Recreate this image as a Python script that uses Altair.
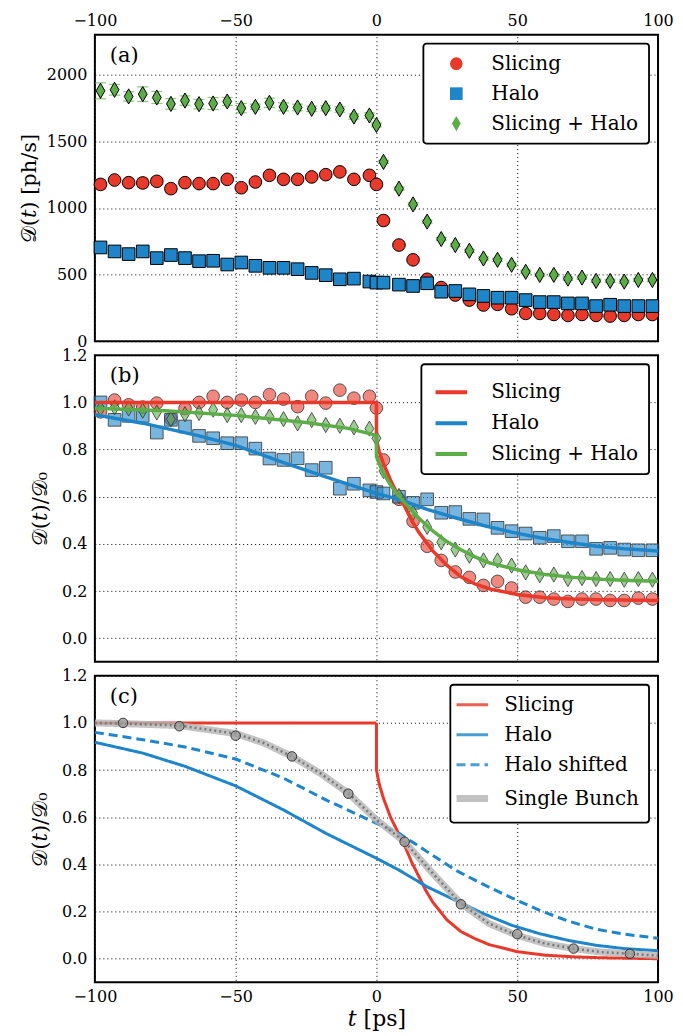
import altair as alt
import pandas as pd

# ---------------- data ----------------
T = [-98, -93, -88, -83, -78, -73, -68, -63, -58, -53, -48, -43, -38, -33, -28, -23, -18, -13, -8, -2.5, 0,
     2.5, 8, 13, 18, 23, 28, 33, 38, 43, 48, 53, 58, 63, 68, 73, 78, 83, 88, 93, 98]

# panel (a): count rate [ph/s]
A_SLICING = [1177, 1210, 1190, 1188, 1200, 1145, 1190, 1183, 1183, 1215, 1152, 1195, 1245, 1215, 1215, 1233, 1250, 1271, 1215, 1245, 1177,
             906, 722, 611, 465, 403, 347, 309, 272, 277, 244, 209, 209, 201, 194, 201, 194, 189, 194, 201, 201]
A_HALO = [704, 674, 654, 674, 624, 647, 624, 601, 604, 576, 591, 566, 551, 551, 541, 513, 496, 465, 470, 448, 440,
          440, 425, 415, 435, 372, 377, 352, 340, 327, 327, 309, 294, 294, 284, 284, 264, 274, 264, 264, 264]
A_SH = [1879, 1887, 1837, 1854, 1829, 1781, 1806, 1779, 1784, 1799, 1749, 1759, 1789, 1759, 1754, 1744, 1749, 1739, 1686, 1694, 1623,
        1346, 1145, 1027, 898, 767, 722, 679, 621, 611, 574, 521, 498, 498, 470, 478, 453, 453, 448, 460, 460]
ERR_SLICING = [35, 15, 15, 35, 30, 30, 15, 15, 25, 15, 15, 10, 15, 15, 15, 10, 10, 10, 10, 10, 10,
               8, 8, 8, 8, 8, 8, 8, 8, 8, 8, 8, 8, 8, 8, 8, 8, 8, 8, 8, 8]
ERR_HALO = [10, 10, 10, 10, 10, 10, 10, 10, 10, 10, 10, 10, 10, 10, 10, 10, 10, 10, 10, 10, 10,
            8, 8, 8, 8, 8, 8, 8, 8, 8, 8, 8, 8, 8, 8, 8, 8, 8, 8, 8, 8]
ERR_SH = [60, 40, 35, 55, 45, 40, 35, 35, 45, 30, 35, 20, 35, 30, 25, 20, 20, 20, 20, 20, 15,
          12, 12, 12, 12, 12, 12, 12, 12, 12, 12, 12, 12, 12, 12, 12, 12, 12, 12, 12, 12]

# panel (b): normalised data
B_SLICING = [0.96, 1.01, 0.99, 0.98, 0.997, 0.93, 0.974, 1.0, 1.026, 1.0, 1.01, 1.0, 1.033, 1.014, 0.982, 1.026, 0.997, 1.052, 1.018, 1.026, 0.976,
             0.756, 0.589, 0.496, 0.390, 0.330, 0.281, 0.258, 0.224, 0.241, 0.213, 0.174, 0.174, 0.166, 0.156, 0.166, 0.166, 0.160, 0.160, 0.170, 0.166]
B_HALO = [1.0, 0.926, 0.943, 0.943, 0.872, 0.926, 0.898, 0.858, 0.848, 0.827, 0.827, 0.804, 0.762, 0.756, 0.763, 0.713, 0.723, 0.634, 0.655, 0.627, 0.620,
          0.614, 0.600, 0.574, 0.589, 0.532, 0.535, 0.506, 0.504, 0.468, 0.454, 0.444, 0.426, 0.433, 0.411, 0.411, 0.379, 0.383, 0.376, 0.373, 0.373]
B_SH = [0.974, 0.979, 0.974, 0.965, 0.957, 0.929, 0.950, 0.955, 0.969, 0.946, 0.946, 0.939, 0.940, 0.929, 0.911, 0.925, 0.904, 0.901, 0.894, 0.889, 0.848,
        0.709, 0.603, 0.532, 0.472, 0.407, 0.376, 0.350, 0.330, 0.330, 0.308, 0.279, 0.267, 0.270, 0.251, 0.255, 0.251, 0.251, 0.248, 0.251, 0.248]

# panel (b): fitted curves
FIT_SLICING_T = [-100, 0, 0, 1, 2.5, 5, 7.5, 10, 12.5, 15, 17.5, 20, 25, 30, 35, 40, 50, 60, 70, 80, 100]
FIT_SLICING_V = [1.0, 1.0, 0.84, 0.79, 0.74, 0.67, 0.61, 0.56, 0.50, 0.45, 0.41, 0.37, 0.31, 0.26, 0.23, 0.21, 0.185, 0.172, 0.166, 0.163, 0.16]
FIT_HALO_T = [-100, -83, -63, -50, -33, -18, 0, 8, 18, 28, 38, 48, 58, 68, 78, 88, 100]
FIT_HALO_V = [0.948, 0.912, 0.858, 0.818, 0.745, 0.684, 0.614, 0.589, 0.546, 0.511, 0.478, 0.450, 0.426, 0.407, 0.390, 0.379, 0.370]
FIT_SH_T = [-100, -75, -50, -25, -10, 0, 0, 1, 2.5, 5, 7.5, 10, 15, 20, 25, 30, 35, 40, 50, 60, 70, 80, 90, 100]
FIT_SH_V = [0.975, 0.965, 0.945, 0.915, 0.89, 0.86, 0.77, 0.74, 0.70, 0.65, 0.61, 0.575, 0.51, 0.455, 0.41, 0.375, 0.345, 0.32, 0.29, 0.27, 0.258, 0.25, 0.245, 0.242]

# panel (c): model curves
C_SLICING_T = [-100, 0, 0, 1, 2.5, 5, 7.5, 10, 12.5, 15, 17.5, 20, 25, 30, 35, 40, 50, 60, 70, 80, 100]
C_SLICING_V = [1.0, 1.0, 0.80, 0.74, 0.68, 0.60, 0.54, 0.48, 0.41, 0.35, 0.29, 0.24, 0.165, 0.115, 0.085, 0.06, 0.03, 0.015, 0.008, 0.004, 0.0]
C_HALO_T = [-100, -83, -68, -50, -33, -18, 0, 8, 18, 28, 38, 48, 58, 68, 78, 88, 100]
C_HALO_V = [0.918, 0.872, 0.816, 0.733, 0.631, 0.532, 0.426, 0.376, 0.305, 0.248, 0.191, 0.142, 0.106, 0.078, 0.057, 0.043, 0.034]
C_SHIFT_T = [-100, -83, -68, -50, -33, -18, 0, 8, 18, 28, 38, 48, 58, 68, 78, 88, 100]
C_SHIFT_V = [0.960, 0.929, 0.898, 0.847, 0.766, 0.674, 0.574, 0.532, 0.454, 0.376, 0.315, 0.258, 0.205, 0.160, 0.125, 0.104, 0.087]
C_SINGLE_T = [-100, -90, -70, -50, -40, -30, -20, -10, 0, 10, 20, 30, 40, 50, 60, 70, 80, 90, 100]
C_SINGLE_V = [1.0, 0.997, 0.989, 0.955, 0.915, 0.858, 0.787, 0.702, 0.589, 0.496, 0.362, 0.234, 0.149, 0.099, 0.064, 0.043, 0.028, 0.021, 0.013]
C_PTS_T = [-90, -70, -50, -30, -10, 10, 30, 50, 70, 90]
C_PTS_V = [1.0, 0.986, 0.946, 0.858, 0.70, 0.496, 0.231, 0.104, 0.043, 0.021]

SERIES3 = ["Slicing", "Halo", "Slicing + Halo"]
SERIES4 = ["Slicing", "Halo", "Halo shifted", "Single Bunch"]
X_TICKS = [-100, -50, 0, 50, 100]
Y_TICKS_A = [0, 500, 1000, 1500, 2000]
Y_TICKS_N = [0.0, 0.2, 0.4, 0.6, 0.8, 1.0, 1.2]

# ---------------- styles ----------------
RED, BLUE, GREEN, GREY = "#e8392a", "#1f85c9", "#5cad48", "#b4b4b4"
DIAMOND = "M0,-1.2L0.7,0L0,1.2L-0.7,0Z"
SERIF = "DejaVu Serif"
W, H = 564, 307


def table(series, ts, vs, errs=None):
    rows = []
    for i, (t, v) in enumerate(zip(ts, vs)):
        r = {"series": series, "grp": series, "t": t, "v": v, "ord": i}
        if errs is not None:
            r["lo"] = v - errs[i]
            r["hi"] = v + errs[i]
        rows.append(r)
    return rows


df_a = pd.DataFrame(table("Slicing", T, A_SLICING, ERR_SLICING) + table("Halo", T, A_HALO, ERR_HALO)
                    + table("Slicing + Halo", T, A_SH, ERR_SH))
df_b = pd.DataFrame(table("Slicing", T, B_SLICING) + table("Halo", T, B_HALO) + table("Slicing + Halo", T, B_SH))
df_bf = pd.DataFrame(table("Slicing", FIT_SLICING_T, FIT_SLICING_V) + table("Halo", FIT_HALO_T, FIT_HALO_V)
                     + table("Slicing + Halo", FIT_SH_T, FIT_SH_V))
df_c = pd.DataFrame(table("Slicing", C_SLICING_T, C_SLICING_V) + table("Halo", C_HALO_T, C_HALO_V)
                    + table("Halo shifted", C_SHIFT_T, C_SHIFT_V))
df_cs = pd.DataFrame(table("Single Bunch", C_SINGLE_T, C_SINGLE_V))
df_cp = pd.DataFrame(table("Single Bunch", C_PTS_T, C_PTS_V))

xscale = alt.Scale(domain=[-100, 100], nice=False, zero=False, padding=0)
# scales that carry a legend
col3 = alt.Scale(domain=SERIES3, range=[RED, BLUE, GREEN])
shp3 = alt.Scale(domain=SERIES3, range=["circle", "square", DIAMOND])
# legend-less scales (domain in another order so that they are not merged with the legend ones)
SERIES3_R = SERIES3[::-1]
col3_r = alt.Scale(domain=SERIES3_R, range=[GREEN, BLUE, RED])
shp3_r = alt.Scale(domain=SERIES3_R, range=[DIAMOND, "square", "circle"])
col4 = alt.Scale(domain=SERIES4, range=[RED, BLUE, BLUE, GREY])
dash4 = alt.Scale(domain=SERIES4, range=[[1, 0], [1, 0], [9, 5], [1, 0]])


def leg(**kw):
    base = dict(title=None, orient="top-right", offset=9, padding=10, rowPadding=10,
                labelFont=SERIF, labelFontSize=20, labelColor="black", labelLimit=400,
                fillColor="white", strokeColor="black", cornerRadius=3)
    base.update(kw)
    return alt.Legend(**base)


leg_a = leg(symbolStrokeColor="black", symbolStrokeWidth=1, symbolSize=160,
            symbolOffset=13, labelOffset=25)
leg_b = leg(symbolType="stroke", symbolStrokeWidth=4, symbolSize=1000, symbolOffset=2, labelOffset=22,
            rowPadding=3)
leg_c = leg(symbolType="stroke", symbolStrokeWidth=alt.ExprRef(expr="datum.label == 'Single Bunch' ? 7 : 3"),
            symbolSize=1000, symbolOffset=2, labelOffset=22)


def xenc(kind):
    if kind == "top":
        ax = alt.Axis(orient="top", values=X_TICKS, title=None, labelPadding=6, grid=True)
    elif kind == "none":
        ax = alt.Axis(values=X_TICKS, title=None, labels=False, grid=True)
    else:
        ax = alt.Axis(orient="bottom", values=X_TICKS, title="𝑡 [ps]", labelPadding=6, grid=True,
                      titleFontSize=22, titlePadding=4)
    return alt.X("t:Q", scale=xscale, axis=ax)


def yenc(field, norm):
    if norm:
        return alt.Y(field, scale=alt.Scale(domain=[-0.1, 1.2], nice=False, zero=False),
                     axis=alt.Axis(values=Y_TICKS_N, format=".1f", title="𝒟(𝑡)/𝒟₀", labelPadding=8,
                                   titlePadding=11))
    return alt.Y(field, scale=alt.Scale(domain=[0, 2300], nice=False),
                 axis=alt.Axis(values=Y_TICKS_A, format="d", title="𝒟(𝑡) [ph/s]", labelPadding=8,
                               titlePadding=7))


def panel_label(txt):
    return alt.Chart(pd.DataFrame({"lab": [txt]})).mark_text(
        font=SERIF, fontSize=21, align="left", baseline="middle", color="black"
    ).encode(text="lab:N", x=alt.value(15), y=alt.value(21))


# ---------------- panel (a) ----------------
base_a = alt.Chart(df_a)
bars_a = base_a.mark_rule(strokeWidth=1.2).encode(
    x=xenc("top"), y=yenc("lo:Q", False), y2="hi:Q",
    color=alt.Color("grp:N", scale=col3_r, legend=None))
cap_lo = base_a.mark_tick(orient="horizontal", size=11, thickness=1.2).encode(
    x="t:Q", y="lo:Q", color=alt.Color("grp:N", scale=col3_r, legend=None))
cap_hi = base_a.mark_tick(orient="horizontal", size=11, thickness=1.2).encode(
    x="t:Q", y="hi:Q", color=alt.Color("grp:N", scale=col3_r, legend=None))
pts_a = base_a.mark_point(filled=True, opacity=1, size=160).encode(
    x="t:Q", y="v:Q",
    fill=alt.Fill("series:N", scale=col3, legend=leg_a),
    shape=alt.Shape("series:N", scale=shp3, legend=leg_a),
    stroke=alt.value("black"), strokeWidth=alt.value(1))
panel_a = alt.layer(bars_a, cap_lo, cap_hi, pts_a, panel_label("(a)")).properties(width=W, height=H)

# ---------------- panel (b) ----------------
pts_b = alt.Chart(df_b).mark_point(filled=True, fillOpacity=0.6, stroke="#333333", strokeOpacity=0.8,
                                   strokeWidth=1, size=160).encode(
    x=xenc("none"), y=yenc("v:Q", True),
    fill=alt.Fill("grp:N", scale=col3_r, legend=None),
    shape=alt.Shape("grp:N", scale=shp3_r, legend=None))
lines_b = alt.Chart(df_bf).mark_line(strokeWidth=3.5).encode(
    x="t:Q", y="v:Q", order="ord:Q",
    color=alt.Color("series:N", scale=col3, legend=leg_b))
panel_b = alt.layer(pts_b, lines_b, panel_label("(b)")).properties(width=W, height=H)

# ---------------- panel (c) ----------------
lines_c = alt.Chart(df_c).mark_line(strokeWidth=3).encode(
    x=xenc("bottom"), y=yenc("v:Q", True), order="ord:Q",
    color=alt.Color("series:N", scale=col4, legend=leg_c),
    strokeDash=alt.StrokeDash("series:N", scale=dash4, legend=leg_c))
single_c = alt.Chart(df_cs).mark_line(strokeWidth=7, opacity=0.8).encode(
    x="t:Q", y="v:Q", order="ord:Q",
    color=alt.Color("series:N", scale=col4, legend=leg_c),
    strokeDash=alt.StrokeDash("series:N", scale=dash4, legend=leg_c))
dots_c = alt.Chart(df_cs).mark_line(strokeWidth=2.5, strokeDash=[2, 3], color="#7a7a7a").encode(
    x="t:Q", y="v:Q", order="ord:Q")
pts_c = alt.Chart(df_cp).mark_point(filled=True, fill="#9a9a9a", fillOpacity=0.75, stroke="#333333",
                                    strokeWidth=1, size=90, shape="circle").encode(x="t:Q", y="v:Q")
panel_c = alt.layer(lines_c, single_c, dots_c, pts_c, panel_label("(c)")).properties(width=W, height=H)

chart = alt.vconcat(panel_a, panel_b, panel_c, spacing=14, bounds="flush").resolve_scale(
    y="independent", color="independent", fill="independent", shape="independent", strokeDash="independent"
).resolve_legend(color="independent", fill="independent", shape="independent", strokeDash="independent"
).properties(padding={"left": 9, "top": 3, "right": 0, "bottom": 0}, background="white"
).configure_axis(
    labelFont=SERIF, labelFontSize=16, labelColor="black", titleFont=SERIF, titleFontSize=21,
    titleColor="black", titleFontWeight="normal", gridColor="black", gridDash=[1, 3], gridOpacity=1,
    gridWidth=1, domain=False, ticks=False, labelFlush=False
).configure_legend(strokeWidth=1.8
).configure_view(stroke="black", strokeWidth=2)

chart.save("out.html", embed_options={"renderer": "svg", "actions": False})
